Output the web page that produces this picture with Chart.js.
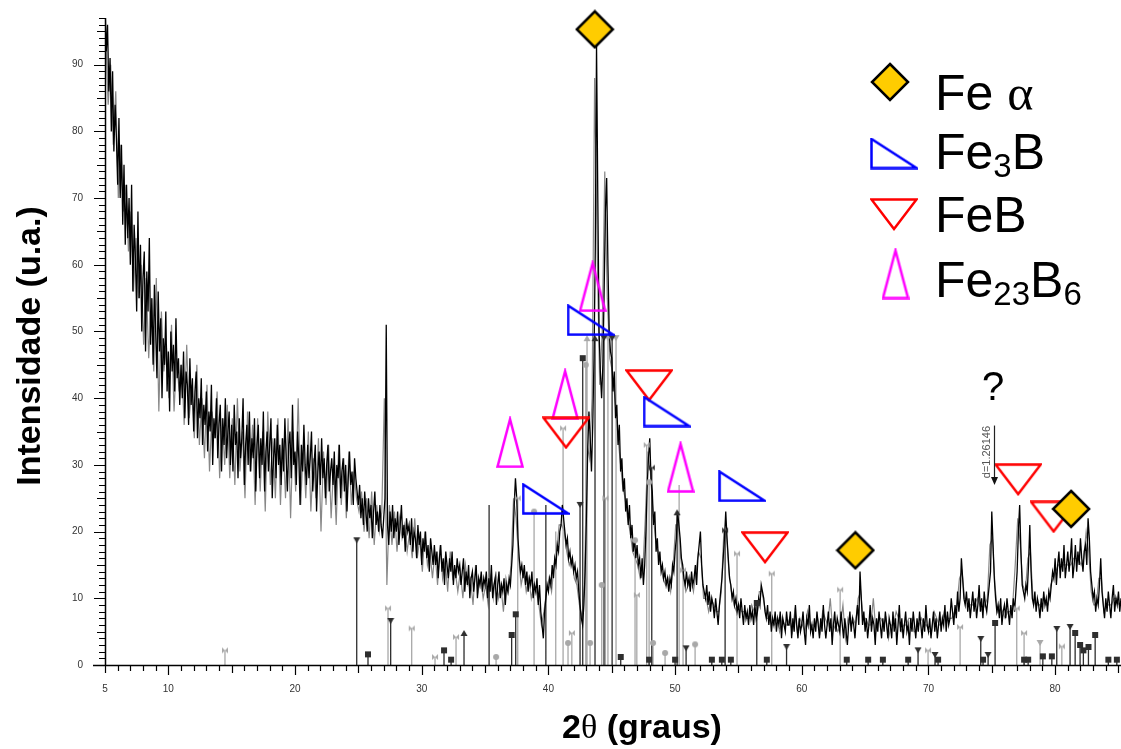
<!DOCTYPE html>
<html>
<head>
<meta charset="utf-8">
<script src="https://cdn.jsdelivr.net/npm/chart.js@4"></script>
<style>
  html, body { margin: 0; padding: 0; background: #fff; }
  #xrd { display: block; }
</style>
</head>
<body>
<canvas id="xrd" width="1121" height="749"></canvas>
<script>
// main scan (black): 2-theta from 5.0 in steps of 0.1
var scanAStart = 5.0, scanAStep = 0.1;
var scanA = [
  99, 92, 96, 86, 91, 80, 89, 77, 84, 79, 72, 82, 70, 78, 66, 75, 63, 72, 64, 70,   // 5
  60, 72, 56, 66, 61, 53, 68, 55, 63, 50, 58, 62, 47, 59, 53, 64, 48, 55, 45, 57,   // 7
  50, 43, 56, 47, 52, 40, 49, 45, 53, 41, 47, 38, 50, 44, 48, 41, 52, 43, 46, 39,   // 9
  45, 40, 47, 37, 44, 42, 36, 46, 39, 43, 35, 41, 44, 34, 40, 37, 43, 33, 39, 36,   // 11
  41, 32, 38, 35, 42, 30, 37, 34, 40, 31, 36, 39, 29, 37, 33, 40, 31, 35, 38, 30,   // 13
  36, 29, 39, 33, 35, 28, 37, 31, 34, 40, 27, 33, 36, 30, 38, 29, 34, 31, 37, 26,   // 15
  33, 36, 28, 34, 30, 38, 26, 32, 35, 29, 33, 37, 25, 31, 34, 28, 36, 30, 33, 27,   // 17
  34, 29, 37, 31, 26, 33, 35, 28, 39, 30, 32, 27, 35, 31, 24, 33, 29, 36, 30, 27,   // 19
  33, 28, 31, 35, 26, 30, 33, 23, 29, 32, 27, 34, 28, 31, 25, 30, 33, 26, 29, 31,   // 21
  27, 32, 24, 30, 28, 33, 25, 29, 31, 26, 30, 23, 28, 32, 27, 29, 24, 31, 28, 26,   // 23
  24, 27, 22, 25, 21, 26, 23, 20, 25, 22, 24, 19, 23, 26, 21, 23, 20, 24, 21, 19,   // 25
  22, 25, 51, 21, 18, 23, 20, 24, 19, 22, 20, 23, 18, 21, 24, 19, 21, 17, 22, 20,   // 27
  21, 18, 22, 17, 20, 19, 16, 21, 18, 20, 15, 19, 17, 20, 16, 18, 14, 19, 17, 15,   // 29
  18, 15, 17, 13, 16, 18, 14, 16, 12, 17, 15, 13, 16, 14, 17, 12, 15, 13, 16, 14,   // 31
  15, 12, 14, 16, 11, 14, 12, 15, 10, 13, 14, 11, 13, 15, 10, 13, 12, 14, 11, 13,   // 33
  12, 14, 10, 13, 11, 15, 10, 12, 13, 9, 12, 14, 10, 12, 11, 13, 9, 12, 11, 13,     // 35
  12, 15, 18, 24, 28, 25, 19, 16, 14, 15, 13, 15, 12, 14, 11, 13, 12, 14, 10, 12,   // 37
  11, 13, 9, 12, 8, 6, 4, 8, 10, 12, 11, 13, 12, 15, 13, 16, 15, 18, 17, 20,        // 39
  21, 24, 22, 20, 18, 19, 16, 17, 15, 16, 14, 15, 13, 14, 11, 9, 7, 6, 9, 14,       // 41
  22, 32, 38, 34, 29, 36, 46, 62, 93, 70, 50, 44, 40, 45, 56, 68, 73, 60, 50, 47,   // 43
  46, 41, 44, 37, 39, 33, 36, 29, 31, 26, 28, 23, 25, 21, 24, 19, 21, 17, 19, 16,   // 45
  18, 15, 16, 13, 16, 12, 15, 20, 27, 31, 34, 28, 26, 21, 23, 17, 19, 15, 17, 14,   // 47
  15, 13, 14, 12, 13, 11, 13, 12, 15, 14, 17, 19, 23, 21, 19, 16, 15, 13, 12, 14,   // 49
  12, 13, 11, 14, 12, 13, 15, 12, 16, 18, 20, 15, 12, 11, 10, 12, 9, 11, 8, 10,     // 51
  9, 7, 10, 8, 6, 9, 11, 13, 16, 19, 23, 19, 16, 13, 12, 10, 11, 9, 10, 8,          // 53
  9, 7, 10, 8, 6, 9, 7, 8, 6, 9, 7, 8, 6, 9, 7, 8, 10, 9, 12, 11,                   // 55
  10, 8, 7, 9, 6, 8, 5, 7, 6, 8, 5, 7, 6, 8, 4, 7, 6, 5, 8, 6,                      // 57
  6, 8, 4, 7, 5, 9, 6, 4, 7, 5, 6, 8, 5, 3, 7, 6, 9, 5, 6, 4,                       // 59
  7, 5, 8, 6, 4, 7, 5, 9, 6, 4, 6, 8, 5, 7, 3, 6, 8, 5, 7, 6,                       // 61
  5, 8, 6, 4, 7, 5, 3, 6, 8, 5, 7, 6, 4, 7, 9, 6, 14, 10, 6, 8,                     // 63
  5, 7, 4, 6, 9, 5, 7, 6, 3, 7, 5, 8, 6, 4, 7, 5, 8, 6, 4, 7,                       // 65
  6, 4, 8, 5, 7, 3, 6, 9, 5, 7, 4, 6, 8, 5, 6, 3, 7, 5, 8, 6,                       // 67
  4, 7, 5, 8, 6, 4, 7, 5, 9, 6, 5, 7, 4, 6, 8, 5, 7, 4, 6, 8,                       // 69
  5, 7, 6, 9, 5, 8, 6, 7, 10, 8, 6, 9, 7, 11, 8, 10, 16, 13, 10, 9,                 // 71
  11, 8, 10, 7, 9, 11, 8, 10, 7, 9, 12, 8, 10, 7, 11, 9, 8, 10, 12, 14,             // 73
  23, 18, 13, 10, 8, 9, 7, 10, 6, 8, 9, 7, 10, 8, 6, 9, 7, 10, 8, 11,               // 75
  14, 20, 24, 17, 12, 11, 10, 12, 11, 15, 21, 14, 10, 9, 11, 8, 10, 9, 7, 10,       // 77
  8, 11, 9, 10, 8, 11, 10, 12, 14, 13, 16, 12, 15, 17, 13, 16, 14, 18, 13, 15,      // 79
  17, 14, 16, 19, 13, 15, 18, 14, 17, 15, 19, 16, 14, 17, 18, 15, 22, 19, 14, 12,   // 81
  10, 11, 8, 10, 9, 12, 16, 11, 9, 7, 10, 8, 11, 9, 7, 10, 12, 8, 10, 9,            // 83
  11, 8, 10                                                                        // 85
];

// second scan (grey): 2-theta from 5.05 in steps of 0.2
var scanBStart = 5.05, scanBStep = 0.2;
var scanB = [
  95, 84, 90, 78, 86, 70, 78, 68, 72, 62,   // 5
  68, 56, 64, 55, 60, 48, 58, 46, 55, 44,   // 7
  58, 38, 53, 44, 48, 40, 51, 38, 46, 41,   // 9
  45, 36, 48, 37, 42, 34, 45, 33, 40, 31,   // 11
  42, 29, 38, 34, 41, 28, 37, 30, 39, 28,   // 13
  37, 27, 40, 29, 35, 25, 38, 29, 36, 24,   // 15
  37, 26, 35, 23, 38, 27, 34, 25, 37, 24,   // 17
  34, 25, 37, 22, 35, 26, 40, 24, 33, 25,   // 19
  35, 23, 31, 25, 34, 20, 32, 24, 33, 22,   // 21
  30, 21, 33, 24, 31, 22, 32, 24, 29, 25,   // 23
  23, 26, 20, 25, 19, 26, 18, 24, 20, 23,   // 25
  40, 12, 24, 18, 23, 17, 22, 19, 21, 17,   // 27
  20, 16, 22, 16, 19, 14, 20, 15, 17, 13,   // 29
  17, 12, 18, 13, 16, 11, 17, 13, 14, 11,   // 31
  14, 10, 15, 12, 13, 9, 15, 11, 13, 10,    // 33
  12, 9, 13, 10, 14, 10, 12, 8, 13, 11,     // 35
  15, 25, 22, 16, 12, 14, 11, 13, 10, 12,   // 37
  11, 9, 6, 8, 11, 13, 11, 15, 17, 21,      // 39
  21, 20, 17, 15, 16, 13, 12, 9, 7, 12,     // 41
  33, 31, 40, 88, 62, 42, 50, 74, 55, 46,   // 43
  44, 40, 35, 31, 27, 25, 22, 20, 17, 16,   // 45
  15, 13, 14, 22, 32, 29, 23, 19, 17, 15,   // 47
  13, 12, 13, 11, 15, 21, 21, 16, 13, 11,   // 49
  12, 13, 11, 14, 17, 16, 10, 10, 8, 10,    // 51
  9, 8, 8, 11, 20, 20, 14, 11, 9, 8,        // 53
  9, 8, 8, 7, 7, 9, 8, 7, 11, 11,           // 55
  9, 7, 7, 6, 6, 7, 5, 7, 6, 6,             // 57
  7, 5, 8, 5, 7, 6, 5, 8, 6, 6,             // 59
  6, 7, 5, 8, 7, 6, 10, 5, 6, 5,            // 61
  6, 9, 4, 7, 6, 7, 6, 10, 11, 7,           // 63
  7, 6, 6, 10, 5, 7, 7, 6, 7, 4,            // 65
  6, 6, 8, 7, 5, 6, 6, 7, 7, 5,             // 67
  5, 6, 7, 6, 6, 5, 5, 8, 7, 6,             // 69
  6, 8, 7, 7, 7, 8, 9, 13, 14, 10,          // 71
  10, 9, 9, 9, 10, 9, 8, 9, 10, 18,         // 73
  19, 12, 8, 9, 8, 7, 8, 8, 9, 15,          // 75
  22, 18, 12, 11, 16, 17, 10, 9, 9, 9,      // 77
  10, 9, 9, 12, 13, 14, 15, 15, 15, 15,     // 79
  15, 15, 16, 16, 16, 15, 16, 20, 17, 11,   // 81
  9, 9, 13, 13, 8, 9, 9, 9, 10, 10,         // 83
  9                                         // 85
];

// reference pattern sticks, dark set
var darkStickPos = [24.87, 25.76, 27.55, 31.76, 32.32, 33.34, 35.32, 37.10, 37.42, 39.80,
  42.50, 42.71, 43.68, 44.39, 45.03, 45.71, 47.95, 48.16, 50.00, 50.16,
  50.87, 52.90, 53.69, 53.95, 54.40, 56.45, 57.24, 58.80, 63.55, 65.24,
  66.40, 68.40, 69.18, 70.52, 70.76, 74.13, 74.31, 74.71, 75.26, 77.55,
  77.87, 79.03, 79.74, 80.13, 81.18, 81.58, 81.97, 82.23, 82.63, 83.16,
  84.20, 84.87];
var darkStickHeight = [18.7, 1.6, 6.6, 2.2, 0.8, 4.8, 24, 4.5, 7.6, 24,
  24, 46, 49, 49, 49, 1.2, 0.8, 29.6, 0.8, 22.9,
  2.5, 0.8, 0.8, 20.2, 0.8, 9.3, 0.8, 2.7, 0.8, 0.8,
  0.8, 0.8, 2.2, 1.5, 0.8, 3.9, 0.8, 1.5, 6.3, 0.8,
  0.8, 1.3, 1.3, 5.4, 5.7, 4.8, 3, 2.2, 2.7, 4.5,
  0.8, 0.8];
// s square, u up triangle, d down triangle, o circle, b bowtie, '' bare stick
var darkStickMark = ['d', 's', 'd', 's', 's', 'u', '', 's', 's', '',
  'd', 's', 'u', 'd', 'd', 's', 's', 'b', 's', 'u',
  'd', 's', 's', 'b', 's', 's', 's', 'd', 's', 's',
  's', 's', 'd', 'd', 's', 'd', 's', 'd', 's', 's',
  's', 's', 's', 'd', 'd', 's', 's', 's', 's', 's',
  's', 's'];

// reference pattern sticks, grey set
var greyStickPos = [14.47, 27.34, 29.21, 31.05, 32.71, 35.87, 37.58, 38.87, 40.58, 41.16,
  41.55, 41.85, 42.95, 43.05, 43.29, 44.21, 44.50, 44.70, 45.34, 46.84,
  46.98, 47.76, 47.95, 48.26, 49.21, 50.32, 50.63, 51.58, 54.89, 57.63,
  63.03, 69.97, 72.50, 76.97, 77.55, 78.81, 80.53];
var greyStickHeight = [2.2, 8.5, 5.5, 1.2, 4.2, 1.2, 25, 23, 20, 35.5,
  3.3, 4.8, 45, 49, 3.3, 12, 25, 49, 49, 18.7,
  10.5, 33, 27.4, 3.3, 1.8, 27, 14.2, 3.1, 16.7, 13.7,
  11.3, 2.2, 5.7, 8.5, 4.8, 3.3, 2.8];
var greyStickMark = ['b', 'b', 'b', 'b', 'b', 'o', 'b', 'o', '', 'b',
  'o', 'b', 'o', 'u', 'o', 'o', 'b', 'd', 'd', 'o',
  'b', 'b', 'o', 'o', 'o', '', 'b', 'o', 'b', 'b',
  'b', 'b', 'b', 'b', 'b', 'd', 'b'];

// identified phases and where their symbols sit
var phaseNames = ['Fe α', 'Fe3B', 'FeB', 'Fe23B6'];
var feAlphaX = [43.66, 64.23, 81.26];
var feAlphaY = [95.3, 17.2, 23.4];
var fe3bX = [43.33, 49.33, 39.78, 55.29];
var fe3bY = [51.7, 38.0, 24.9, 26.8];
var feBX = [47.95, 41.39, 57.10, 77.08, 79.88];
var feBY = [41.9, 34.8, 17.6, 27.8, 22.2];
var fe23b6X = [36.97, 41.32, 50.43, 43.49];
var fe23b6Y = [33.4, 40.6, 29.7, 56.8];

// unindexed reflection
var unknownX = 75.1, unknownY = 39.7;
var dSpacingText = 'd=1.26146';
var dSpacingX = 75.2, dSpacingTop = 35.9, dSpacingTip = 27.0, dSpacingTextStart = 28.0;

var xMin = 5, xMax = 85.2, yMin = 0, yMax = 97;
var xLabelValues = [5, 10, 20, 30, 40, 50, 60, 70, 80];
var yLabelValues = [0, 10, 20, 30, 40, 50, 60, 70, 80, 90];

// ---------- point sprites ----------
function sprite(w, h, paint) {
  var c = document.createElement('canvas');
  c.width = w;
  c.height = h;
  paint(c.getContext('2d'), w, h);
  return c;
}

function outline(g, pts, color) {
  g.beginPath();
  g.moveTo(pts[0][0], pts[0][1]);
  for (var i = 1; i < pts.length; i++) g.lineTo(pts[i][0], pts[i][1]);
  g.closePath();
  g.lineWidth = 2.5;
  g.strokeStyle = color;
  g.stroke();
}

var diamondImg = sprite(40, 40, function (g, w, h) {
  g.beginPath();
  g.moveTo(w / 2, 2); g.lineTo(w - 2, h / 2); g.lineTo(w / 2, h - 2); g.lineTo(2, h / 2);
  g.closePath();
  g.fillStyle = '#FFCC00';
  g.fill();
  g.lineWidth = 2.5;
  g.strokeStyle = '#000';
  g.stroke();
});
var fe3bImg = sprite(48, 32, function (g, w, h) {
  outline(g, [[1.5, 1.5], [1.5, h - 1.5], [w - 1.5, h - 1.5]], '#0000FF');
});
var feBImg = sprite(48, 33, function (g, w, h) {
  outline(g, [[1.5, 1.5], [w - 1.5, 1.5], [w / 2, h - 2]], '#FF0000');
});
var fe23b6Img = sprite(28, 52, function (g, w, h) {
  outline(g, [[w / 2, 3], [1.5, h - 1.5], [w - 1.5, h - 1.5]], '#FF00FF');
});

function smallMark(kind, color) {
  return sprite(8, 8, function (g) {
    g.fillStyle = color;
    g.beginPath();
    if (kind === 's') g.rect(1, 1, 6, 6);
    else if (kind === 'u') { g.moveTo(4, 1); g.lineTo(7.5, 7); g.lineTo(0.5, 7); g.closePath(); }
    else if (kind === 'd') { g.moveTo(0.5, 1); g.lineTo(7.5, 1); g.lineTo(4, 7); g.closePath(); }
    else if (kind === 'o') g.arc(4, 4, 3, 0, Math.PI * 2);
    else {
      g.moveTo(1, 1); g.lineTo(4, 4); g.lineTo(1, 7); g.closePath();
      g.moveTo(7, 1); g.lineTo(4, 4); g.lineTo(7, 7); g.closePath();
    }
    g.fill();
  });
}

var darkColor = '#2e2e2e', greyColor = '#a8a8a8';
var markSprites = { dark: {}, grey: {} };
['s', 'u', 'd', 'o', 'b'].forEach(function (k) {
  markSprites.dark[k] = smallMark(k, darkColor);
  markSprites.grey[k] = smallMark(k, greyColor);
});

// ---------- datasets built from the arrays ----------
function scanPoints(values, start, step) {
  return values.map(function (v, i) {
    return { x: +(start + i * step).toFixed(3), y: v };
  });
}

function stickSegments(pos, height) {
  var pts = [];
  pos.forEach(function (p, i) {
    pts.push({ x: p, y: 0 }, { x: p, y: height[i] }, { x: p, y: null });
  });
  return pts;
}

function stickHeads(pos, height, mark, tone) {
  var pts = [], styles = [];
  pos.forEach(function (p, i) {
    if (!mark[i]) return;
    pts.push({ x: p, y: height[i] });
    styles.push(markSprites[tone][mark[i]]);
  });
  return { data: pts, styles: styles };
}

function xyPairs(xs, ys) {
  return xs.map(function (x, i) { return { x: x, y: ys[i] }; });
}

var darkHeads = stickHeads(darkStickPos, darkStickHeight, darkStickMark, 'dark');
var greyHeads = stickHeads(greyStickPos, greyStickHeight, greyStickMark, 'grey');

function symbolSet(label, xs, ys, img) {
  return {
    type: 'scatter', label: label, data: xyPairs(xs, ys),
    pointStyle: img, pointRadius: 5, clip: false, order: 0
  };
}

// ---------- frame, titles, legend ----------
function splitLabel(text) {
  var runs = [];
  for (var i = 0; i < text.length; i++) {
    var ch = text[i];
    var kind = /[0-9]/.test(ch) ? 'sub' : (ch === 'α' ? 'greek' : 'main');
    if (runs.length && runs[runs.length - 1].kind === kind) runs[runs.length - 1].text += ch;
    else runs.push({ kind: kind, text: ch });
  }
  return runs;
}

function drawRuns(ctx, runs, x, y, fonts, shifts) {
  runs.forEach(function (r) {
    ctx.font = fonts[r.kind];
    ctx.fillText(r.text, x, y + (shifts[r.kind] || 0));
    x += ctx.measureText(r.text).width;
  });
  return x;
}

var legendFonts = { main: '50px "Liberation Sans"', sub: '33px "Liberation Sans"', greek: '50px "Liberation Serif"' };
var legendShift = { sub: 8 };
var legendRows = [
  { img: diamondImg, cx: 890, cy: 82, baseline: 109.5 },
  { img: fe3bImg, cx: 894, cy: 153.5, baseline: 169 },
  { img: feBImg, cx: 894, cy: 214.5, baseline: 231.5 },
  { img: fe23b6Img, cx: 895.5, cy: 273.5, baseline: 296.5 }
];

var framePlugin = {
  id: 'frame',
  afterDraw: function (chart) {
    var ctx = chart.ctx, xs = chart.scales.x, ys = chart.scales.y, area = chart.chartArea;
    var v, len, p;
    ctx.save();

    // axis lines
    ctx.strokeStyle = '#000';
    ctx.lineWidth = 1.5;
    ctx.beginPath();
    ctx.moveTo(area.left - 12, area.bottom + 0.5);
    ctx.lineTo(area.right, area.bottom + 0.5);
    ctx.moveTo(area.left + 0.5, area.top);
    ctx.lineTo(area.left + 0.5, area.bottom);
    ctx.stroke();

    // tick marks: every unit, longer at fives and tens
    ctx.lineWidth = 1.2;
    ctx.beginPath();
    for (v = Math.ceil(xs.min); v <= xs.max; v++) {
      len = v % 10 === 0 ? 10 : (v % 5 === 0 ? 8 : 6);
      p = Math.round(xs.getPixelForValue(v)) + 0.5;
      ctx.moveTo(p, area.bottom);
      ctx.lineTo(p, area.bottom + len);
    }
    for (v = Math.ceil(ys.min); v <= ys.max; v++) {
      len = v % 10 === 0 ? 11 : (v % 5 === 0 ? 8 : 6);
      p = Math.round(ys.getPixelForValue(v)) + 0.5;
      ctx.moveTo(area.left - len, p);
      ctx.lineTo(area.left, p);
    }
    ctx.stroke();

    // axis titles
    ctx.fillStyle = '#000';
    ctx.textBaseline = 'alphabetic';
    ctx.save();
    ctx.translate(40, 346);
    ctx.rotate(-Math.PI / 2);
    ctx.textAlign = 'center';
    ctx.font = 'bold 34px "Liberation Sans"';
    ctx.fillText('Intensidade (u.a.)', 0, 0);
    ctx.restore();

    var xTitle = [{ kind: 'main', text: '2' }, { kind: 'greek', text: 'θ' }, { kind: 'main', text: ' (graus)' }];
    var xTitleFonts = { main: 'bold 34px "Liberation Sans"', greek: '34px "Liberation Serif"' };
    ctx.textAlign = 'left';
    var w = 0;
    xTitle.forEach(function (r) { ctx.font = xTitleFonts[r.kind]; w += ctx.measureText(r.text).width; });
    drawRuns(ctx, xTitle, 642 - w / 2, 738, xTitleFonts, {});

    // unindexed peak: question mark and d-spacing arrow
    var qx = xs.getPixelForValue(unknownX);
    ctx.textAlign = 'center';
    ctx.font = '40px "Liberation Sans"';
    ctx.fillText('?', qx, ys.getPixelForValue(unknownY));

    var dx = Math.round(xs.getPixelForValue(dSpacingX)) + 0.5;
    var dTop = ys.getPixelForValue(dSpacingTop), dTip = ys.getPixelForValue(dSpacingTip);
    ctx.strokeStyle = '#222';
    ctx.lineWidth = 1.2;
    ctx.beginPath();
    ctx.moveTo(dx, dTop);
    ctx.lineTo(dx, dTip - 6);
    ctx.stroke();
    ctx.fillStyle = '#111';
    ctx.beginPath();
    ctx.moveTo(dx - 3.5, dTip - 8);
    ctx.lineTo(dx + 3.5, dTip - 8);
    ctx.lineTo(dx, dTip);
    ctx.closePath();
    ctx.fill();
    ctx.save();
    ctx.translate(dx - 2, ys.getPixelForValue(dSpacingTextStart));
    ctx.rotate(-Math.PI / 2);
    ctx.textAlign = 'left';
    ctx.textBaseline = 'bottom';
    ctx.fillStyle = '#555';
    ctx.font = '11px "Liberation Sans"';
    ctx.fillText(dSpacingText, 0, 0);
    ctx.restore();

    // legend
    ctx.fillStyle = '#000';
    ctx.textAlign = 'left';
    ctx.textBaseline = 'alphabetic';
    legendRows.forEach(function (row, i) {
      ctx.drawImage(row.img, row.cx - row.img.width / 2, row.cy - row.img.height / 2);
      drawRuns(ctx, splitLabel(phaseNames[i]), 935, row.baseline, legendFonts, legendShift);
    });

    ctx.restore();
  }
};

Chart.defaults.font.family = '"Liberation Sans", Arial, sans-serif';

new Chart(document.getElementById('xrd'), {
  type: 'line',
  data: {
    datasets: [
      symbolSet(phaseNames[0], feAlphaX, feAlphaY, diamondImg),
      symbolSet(phaseNames[1], fe3bX, fe3bY, fe3bImg),
      symbolSet(phaseNames[2], feBX, feBY, feBImg),
      symbolSet(phaseNames[3], fe23b6X, fe23b6Y, fe23b6Img),
      {
        type: 'scatter', label: 'dark marks', data: darkHeads.data,
        pointStyle: darkHeads.styles, pointRadius: 4, order: 1
      },
      {
        type: 'scatter', label: 'grey marks', data: greyHeads.data,
        pointStyle: greyHeads.styles, pointRadius: 4, order: 1
      },
      {
        label: 'scan', data: scanPoints(scanA, scanAStart, scanAStep),
        borderColor: '#000', borderWidth: 1.3, pointRadius: 0, order: 2
      },
      {
        label: 'dark sticks', data: stickSegments(darkStickPos, darkStickHeight),
        borderColor: darkColor, borderWidth: 1.3, pointRadius: 0, spanGaps: false, order: 3
      },
      {
        label: 'grey sticks', data: stickSegments(greyStickPos, greyStickHeight),
        borderColor: greyColor, borderWidth: 1.3, pointRadius: 0, spanGaps: false, order: 3
      },
      {
        label: 'scan 2', data: scanPoints(scanB, scanBStart, scanBStep),
        borderColor: '#888', borderWidth: 1.2, pointRadius: 0, order: 4
      }
    ]
  },
  options: {
    responsive: false,
    animation: false,
    devicePixelRatio: 1,
    layout: { autoPadding: false, padding: { top: 18, right: 0, bottom: 0, left: 0 } },
    plugins: {
      legend: { display: false },
      tooltip: { enabled: false }
    },
    scales: {
      x: {
        type: 'linear',
        min: xMin,
        max: xMax,
        grid: { display: false, drawTicks: false },
        border: { display: false },
        afterBuildTicks: function (scale) {
          scale.ticks = xLabelValues.map(function (v) { return { value: v }; });
        },
        afterFit: function (scale) { scale.height = 84; },
        ticks: {
          autoSkip: false,
          maxRotation: 0,
          padding: 18,
          color: '#333',
          font: { size: 10 }
        }
      },
      y: {
        type: 'linear',
        min: yMin,
        max: yMax,
        // invisible tick marks only push the labels away from the axis
        grid: {
          display: true, drawOnChartArea: false, drawTicks: true,
          tickLength: 22, tickColor: 'rgba(0,0,0,0)', color: 'rgba(0,0,0,0)'
        },
        border: { display: false },
        afterBuildTicks: function (scale) {
          scale.ticks = yLabelValues.map(function (v) { return { value: v }; });
        },
        afterFit: function (scale) { scale.width = 105; },
        ticks: {
          autoSkip: false,
          padding: 0,
          color: '#333',
          font: { size: 10 }
        }
      }
    }
  },
  plugins: [framePlugin]
});
</script>
</body>
</html>
